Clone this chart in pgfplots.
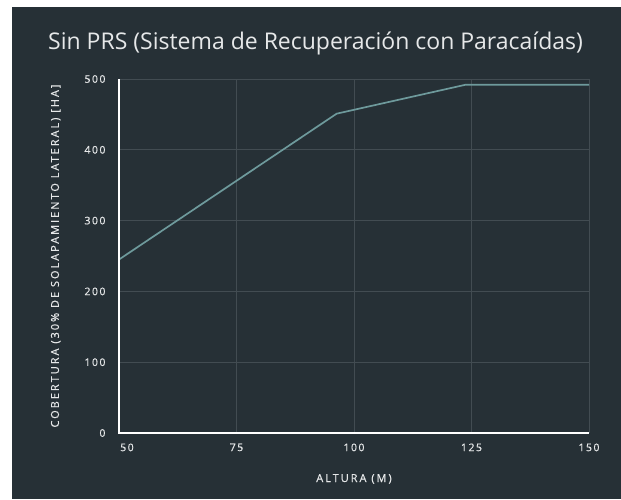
\documentclass[border=0pt]{standalone}
\usepackage{pgfplots}
\pgfplotsset{compat=1.18}
\usepackage{fontspec}
\setmainfont{Open Sans}
\newfontfamily\lab[LetterSpace=14,FakeBold=0.6]{Open Sans}
\newfontfamily\labb[LetterSpace=18,FakeBold=0.6]{Open Sans}
\definecolor{bg}{HTML}{263036}
\definecolor{gridc}{HTML}{424C52}
\definecolor{linec}{HTML}{6E9A9C}
\definecolor{txt}{HTML}{E6E8E9}
\begin{document}
\begin{tikzpicture}[x=1pt,y=1pt]
\fill[white] (0,0) rectangle (621,499);
\fill[bg] (12,0) rectangle (621,492);
\node[anchor=base west, text=txt, font=\fontsize{23}{26}\selectfont, inner sep=0pt] at (48,449) {Sin PRS (Sistema de Recuperación con Paracaídas)};
\begin{axis}[
  at={(119pt,66pt)}, anchor=origin,
  scale only axis, width=470pt, height=354pt,
  xmin=50, xmax=150, ymin=0, ymax=500,
  xtick={50,75,100,125,150}, ytick={0,100,200,300,400,500},
  xticklabels={\hspace*{16pt}50,75,100,125,150},
  grid=major, major grid style={gridc, line width=0.8pt},
  axis line style={draw=none},
  tick style={draw=none},
  /pgf/number format/assume math mode=true,
  ticklabel style={text=txt, font=\lab\fontsize{10.5}{12}\selectfont},
  xticklabel style={yshift=-7pt},
  yticklabel style={xshift=-10pt},
  xlabel={ALTURA (M)}, ylabel={COBERTURA (30\% DE SOLAPAMIENTO LATERAL) [HA]},
  label style={text=txt, font=\labb\fontsize{11}{12}\selectfont},
  xlabel style={yshift=-16pt},
  ylabel style={yshift=17pt},
  clip=false,
]
\addplot[linec, line width=1.7pt] coordinates {(50,245) (96.3,451) (123.8,492) (150,492)};
\draw[white, line width=1.8pt] (axis cs:50,500) -- (axis cs:50,0) -- (axis cs:150,0);
\end{axis}
\end{tikzpicture}
\end{document}
